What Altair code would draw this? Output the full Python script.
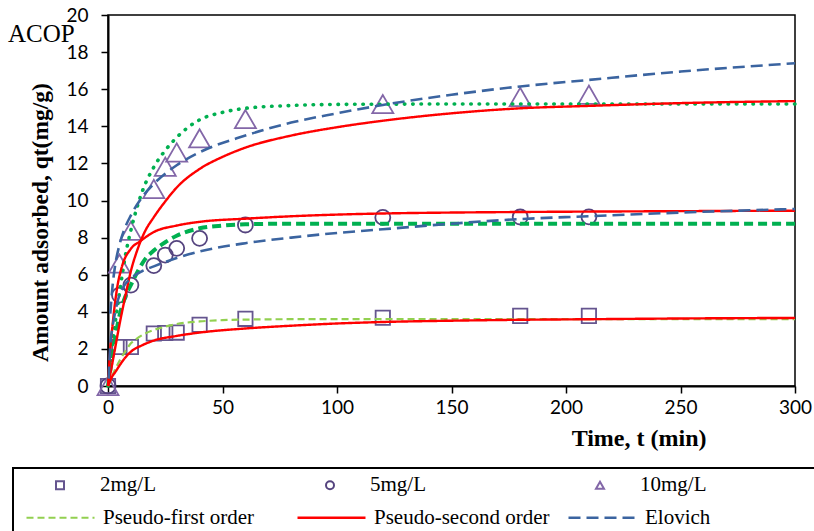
import altair as alt
import pandas as pd

# ---------------- data ----------------
conc_levels = ["2mg/L", "5mg/L", "10mg/L"]
model_levels = ["Pseudo-first order", "Pseudo-second order", "Elovich"]

t_obs = [0, 5, 10, 20, 25, 30, 40, 60, 120, 180, 210]
q_obs_2 = [0, 2.1, 2.1, 2.83, 2.86, 2.88, 3.3, 3.62, 3.68, 3.78, 3.78]
q_obs_5 = [0, 4.9, 5.44, 6.49, 7.06, 7.42, 7.96, 8.68, 9.09, 9.11, 9.12]
q_obs_10 = [0, 6.6, 8.37, 10.62, 11.82, 12.59, 13.35, 14.39, 15.2, 15.58, 15.7]

# Pseudo-first order curves
t_pfo_2 = [0, 2, 5, 8, 10, 12, 15, 20, 25, 30, 40, 50, 60, 80, 120, 200, 300]
q_pfo_2 = [0, 0.6, 1.35, 1.95, 2.3, 2.5, 2.75, 3.02, 3.2, 3.34, 3.48, 3.55, 3.58, 3.6, 3.6, 3.6, 3.6]
t_pfo_5 = [0, 2, 4.5, 7.5, 10, 12, 16, 20, 25, 30, 40, 50, 60, 80, 120, 200, 300]
q_pfo_5 = [0, 1.7, 3.5, 4.8, 5.45, 5.95, 6.8, 7.3, 7.75, 8.1, 8.5, 8.65, 8.72, 8.75, 8.75, 8.75, 8.75]
t_pfo_10 = [0, 2, 5, 8, 10, 15, 20, 25, 30, 35, 40, 50, 60, 80, 100, 150, 300]
q_pfo_10 = [0, 2.3, 5.0, 7.3, 8.4, 10.5, 11.8, 12.7, 13.4, 13.95, 14.35, 14.75, 14.97, 15.12, 15.18, 15.2, 15.2]

# Pseudo-second order curves
t_pso_2 = [0, 1, 2, 3, 5, 7, 10, 15, 20, 30, 40, 60, 80, 100, 120, 150, 180, 210, 250, 300]
q_pso_2 = [0, 0.3, 0.55, 0.72, 1.1, 1.45, 1.85, 2.2, 2.45, 2.7, 2.88, 3.1, 3.25, 3.37, 3.45, 3.52, 3.57, 3.6, 3.64, 3.67]
t_pso_5 = [0, 1, 2, 4, 6, 10, 14, 20, 30, 40, 60, 80, 100, 120, 150, 180, 240, 300]
q_pso_5 = [0, 2.0, 3.3, 5.3, 6.4, 7.4, 7.8, 8.3, 8.65, 8.85, 9.02, 9.15, 9.24, 9.3, 9.35, 9.38, 9.42, 9.45]
t_pso_10 = [0, 2, 5, 8, 10, 13, 16, 20, 25, 30, 40, 50, 60, 80, 100, 120, 150, 180, 210, 250, 300]
q_pso_10 = [0, 1.3, 3.3, 5.1, 6.2, 7.4, 8.3, 9.1, 9.95, 10.7, 11.7, 12.35, 12.85, 13.5, 13.95, 14.3, 14.7, 14.97, 15.1, 15.25, 15.36]

# Elovich curves
t_elo_5 = [0.3, 0.5, 1, 2, 3, 5, 7, 10, 15, 20, 30, 40, 60, 80, 100, 120, 150, 180, 210, 250, 300]
q_elo_5 = [0.4, 1.0, 2.2, 3.2, 3.9, 4.9, 5.4, 5.8, 6.2, 6.45, 6.9, 7.25, 7.7, 8.0, 8.25, 8.45, 8.75, 9.0, 9.15, 9.35, 9.54]
t_elo_10 = [1, 2, 3, 5, 7, 10, 15, 20, 30, 40, 60, 80, 100, 120, 150, 180, 210, 250, 300]
q_elo_10 = [3.9, 5.4, 6.4, 7.6, 8.4, 9.2, 10.2, 10.9, 11.9, 12.6, 13.5, 14.2, 14.7, 15.15, 15.7, 16.15, 16.5, 16.95, 17.4]

x_ticks = [0, 50, 100, 150, 200, 250, 300]
y_ticks = [0, 2, 4, 6, 8, 10, 12, 14, 16, 18, 20]

# ---------------- tables ----------------
obs = pd.concat([
    pd.DataFrame({"t": t_obs, "q": q_obs_2, "conc": "2mg/L"}),
    pd.DataFrame({"t": t_obs, "q": q_obs_5, "conc": "5mg/L"}),
    pd.DataFrame({"t": t_obs, "q": q_obs_10, "conc": "10mg/L"}),
], ignore_index=True)

legend_curves = pd.concat([
    pd.DataFrame({"t": t_pfo_2, "q": q_pfo_2, "model": "Pseudo-first order", "conc": "2mg/L"}),
    pd.DataFrame({"t": t_pso_2, "q": q_pso_2, "model": "Pseudo-second order", "conc": "2mg/L"}),
    pd.DataFrame({"t": t_pso_5, "q": q_pso_5, "model": "Pseudo-second order", "conc": "5mg/L"}),
    pd.DataFrame({"t": t_pso_10, "q": q_pso_10, "model": "Pseudo-second order", "conc": "10mg/L"}),
    pd.DataFrame({"t": t_elo_5, "q": q_elo_5, "model": "Elovich", "conc": "5mg/L"}),
    pd.DataFrame({"t": t_elo_10, "q": q_elo_10, "model": "Elovich", "conc": "10mg/L"}),
], ignore_index=True)

pfo5 = pd.DataFrame({"t": t_pfo_5, "q": q_pfo_5})
pfo10 = pd.DataFrame({"t": t_pfo_10, "q": q_pfo_10})

# ---------------- encodings ----------------
SERIF = "Liberation Serif"
x_axis = alt.Axis(values=x_ticks, title="Time, t (min)", grid=False,
                  tickSize=7, tickWidth=1.5, tickColor="black",
                  domainColor="black", domainWidth=2,
                  labelFont="Lato", labelFontSize=19, labelColor="black",
                  labelPadding=5, labelFlush=False, labelOverlap=False,
                  titleFont=SERIF, titleFontSize=24, titleFontWeight="bold",
                  titleColor="black", titleX=598, titleY=59,
                  titleAlign="right", titleBaseline="alphabetic")
y_axis = alt.Axis(values=y_ticks, title="Amount adsorbed, qt(mg/g)", grid=False,
                  tickSize=7, tickWidth=1.5, tickColor="black",
                  domainColor="black", domainWidth=2,
                  labelFont="Lato", labelFontSize=19, labelColor="black",
                  labelPadding=13, labelFlush=False, labelOverlap=False,
                  titleFont=SERIF, titleFontSize=23.5, titleFontWeight="bold",
                  titleColor="black", titleX=-61, titleY=207, titleAngle=270,
                  titleAlign="center", titleBaseline="alphabetic")
x_scale = alt.Scale(domain=[0, 300], nice=False, zero=True)
y_scale = alt.Scale(domain=[0, 20], nice=False, zero=True)


def xenc():
    return alt.X("t:Q", scale=x_scale, axis=x_axis)


def yenc():
    return alt.Y("q:Q", scale=y_scale, axis=y_axis)


conc_legend = alt.Legend(title=None, orient="none", legendX=-58.5, legendY=459.5,
                         direction="horizontal", gridAlign="all", columnPadding=153,
                         symbolSize=64, symbolStrokeWidth=2, labelLimit=300,
                         labelFont=SERIF, labelFontSize=21, labelColor="black",
                         labelOffset=29.5, padding=0)
model_legend = alt.Legend(title=None, orient="none", legendX=-83, legendY=467,
                          direction="horizontal", gridAlign="all", columnPadding=13,
                          symbolSize=4624, symbolStrokeWidth=3, symbolType="stroke",
                          labelLimit=300,
                          labelFont=SERIF, labelFontSize=21, labelColor="black",
                          labelOffset=7, padding=0)

shape_scale = alt.Scale(domain=conc_levels, range=["square", "circle", "triangle-up"])
stroke_scale = alt.Scale(domain=conc_levels, range=["#65558F", "#55447F", "#8367A8"])
marker_sizes = [205, 225, 441]

point_layers = []
for lvl, sz in zip(conc_levels, marker_sizes):
    point_layers.append(
        alt.Chart(obs).transform_filter(alt.datum.conc == lvl)
        .mark_point(filled=False, strokeWidth=1.8, opacity=1, size=sz)
        .encode(
            x=xenc(), y=yenc(),
            shape=alt.Shape("conc:N", scale=shape_scale, legend=conc_legend),
            stroke=alt.Stroke("conc:N", scale=stroke_scale, legend=conc_legend),
        )
    )

pfo5_line = alt.Chart(pfo5).mark_line(color="#00B050", strokeDash=[9, 5], strokeWidth=4,
                                      interpolate="monotone").encode(x=xenc(), y=yenc())
pfo10_line = alt.Chart(pfo10).mark_line(color="#00B050", strokeDash=[0.5, 7.8], strokeWidth=3.6,
                                        strokeCap="round", interpolate="monotone").encode(x=xenc(), y=yenc())

model_lines = alt.Chart(legend_curves).mark_line(interpolate="monotone").encode(
    x=xenc(), y=yenc(), detail="conc:N",
    color=alt.Color("model:N", scale=alt.Scale(domain=model_levels,
                    range=["#92D050", "#FF0000", "#3B64A0"]), legend=model_legend),
    strokeDash=alt.StrokeDash("model:N", scale=alt.Scale(domain=model_levels,
                              range=[[7, 4], [1, 0], [12, 6]]), legend=model_legend),
    strokeWidth=alt.StrokeWidth("model:N", scale=alt.Scale(domain=model_levels,
                                range=[2.2, 2.6, 2.6]), legend=None),
)

box = alt.Chart(pd.DataFrame({"a": [0]})).mark_rect(fillOpacity=0, stroke="black", strokeWidth=2).encode(
    x=alt.value(-95), x2=alt.value(730), y=alt.value(453), y2=alt.value(540)
)

label = alt.Chart(pd.DataFrame({"txt": ["ACOP"]})).mark_text(
    font=SERIF, fontSize=25, color="black", align="left", baseline="alphabetic"
).encode(text="txt:N", x=alt.value(-100), y=alt.value(27))

chart = alt.layer(*point_layers, pfo5_line, pfo10_line, model_lines, box, label).properties(
    width=687, height=371,
    autosize=alt.AutoSizeParams(type="none"),
    padding={"left": 108, "top": 15, "right": 19, "bottom": 145},
).configure_view(stroke="black", strokeWidth=1.5)

chart.save("out.html", embed_options={"renderer": "svg", "actions": False})
